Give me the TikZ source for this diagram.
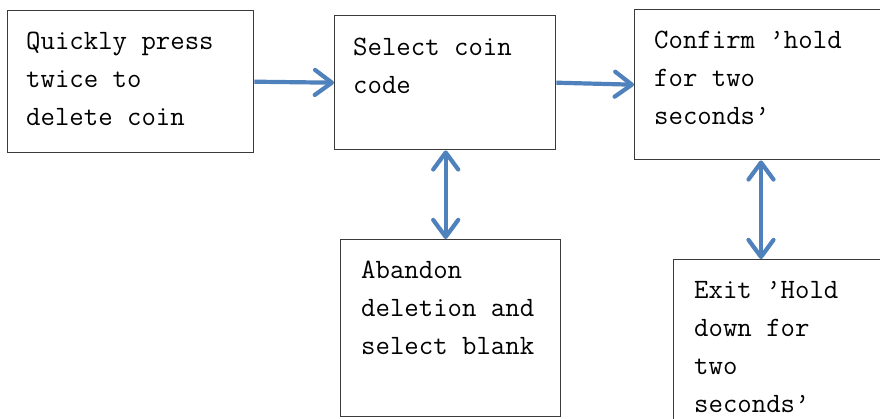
\documentclass[tikz,border=0pt]{standalone}
\usepackage{fontspec}
\usetikzlibrary{arrows.meta}
\definecolor{arrowblue}{HTML}{4F81BD}
\definecolor{boxline}{HTML}{3A3A3A}
\tikzset{
  x=1pt, y=-1pt,
  boxshape/.style={draw=boxline, line width=1.4pt, fill=white, rectangle, inner sep=0pt, anchor=north west},
  boxtext/.style={inner sep=0pt, anchor=north west, align=left, font=\ttfamily\fontsize{28}{38}\selectfont},
  barb/.tip={Straight Barb[length=17pt, width=25pt, round]},
  flow/.style={draw=arrowblue, line width=4.2pt, -barb},
  both/.style={draw=arrowblue, line width=4.2pt, barb-barb},
}
\begin{document}
\begin{tikzpicture}
\useasboundingbox (0,0) rectangle (880,418);
\clip (0,0) rectangle (880,418);
\fill[white] (0,0) rectangle (880,418);
% boxes
\node[boxshape, minimum width=246pt, minimum height=142pt] (b1) at (7,10) {};
\node[boxshape, minimum width=221pt, minimum height=134pt] (b2) at (334,15) {};
\node[boxshape, minimum width=254pt, minimum height=150pt] (b3) at (634,9) {};
\node[boxshape, minimum width=220pt, minimum height=177pt] (b4) at (340,239) {};
\node[boxshape, minimum width=230pt, minimum height=180pt] (b5) at (673,259) {};
% texts (top = first baseline - 26.6)
\node[boxtext] (t1) at (26,22.4) {\strut Quickly press\\twice to\\delete coin};
\node[boxtext] (t2) at (353,28.4) {\strut Select coin\\code};
\node[boxtext] (t3) at (654,21.4) {\strut Confirm ’hold\\for two\\seconds’};
\node[boxtext] (t4) at (361,251.4) {\strut Abandon\\deletion and\\select blank};
\node[boxtext] (t5) at (694,271.4) {\strut Exit ’Hold\\down for\\two\\seconds’};
% connectors
\draw[flow] (b1.east) -- (b2.west);
\draw[flow] (b2.east) -- (b3.west);
\coordinate (c2) at ([xshift=0.5pt]b2.south);
\draw[both] (c2) -- (c2 |- b4.north);
\coordinate (c3) at (761,0);
\draw[both] (c3 |- b3.south) -- (c3 |- b5.north);
\end{tikzpicture}
\end{document}
